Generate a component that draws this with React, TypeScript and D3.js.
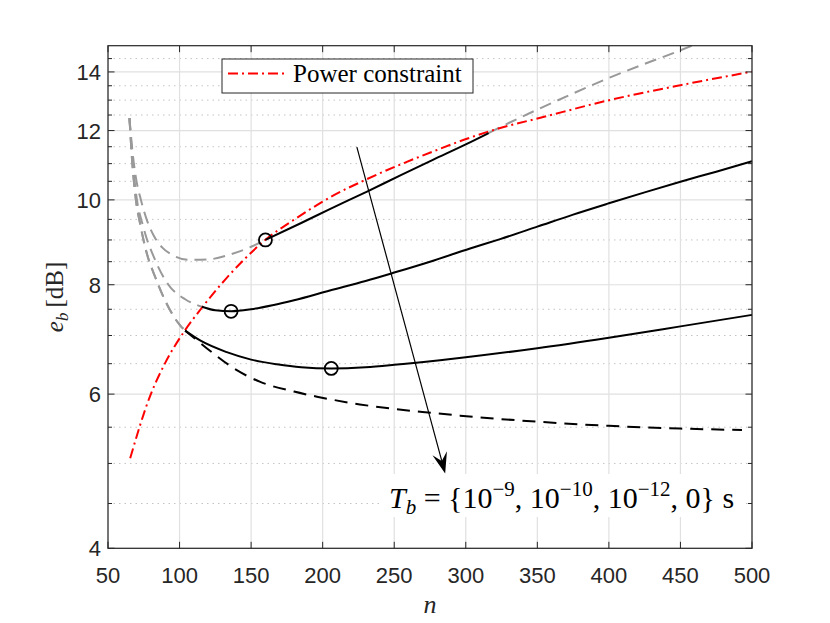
import * as d3 from "d3";
import { useEffect, useRef } from "react";

// values: n and e_b [dB]
const xTicks = [50, 100, 150, 200, 250, 300, 350, 400, 450, 500];
const yTicks = [4, 6, 8, 10, 12, 14];
const yMinorTicks = [4.5, 5, 5.5, 6.5, 7, 7.5, 8.5, 9, 9.5, 10.5, 11, 11.5, 12.5, 13, 13.5, 14.5];

const powerN = [65.5, 79.4, 89.9, 103.9, 115.6, 131.9, 145.8, 159.8, 176.1, 190.1, 205.2, 230.9, 282.1, 303.1, 324.1, 352.1, 398.6, 450, 500];
const powerE = [5.07, 5.97, 6.51, 7.1, 7.53, 8.11, 8.57, 9.0, 9.4, 9.73, 10.07, 10.56, 11.44, 11.78, 12.08, 12.41, 12.98, 13.52, 14.01];

// T_b = 1e-9
const c1N = [65, 67, 69.5, 73, 77, 82, 88, 95, 107, 120, 135, 150, 160, 185, 205, 231, 255, 277, 300, 316, 330, 350, 375, 400, 425, 450, 458];
const c1E = [12.4, 11.4, 10.6, 10.0, 9.5, 9.1, 8.82, 8.65, 8.54, 8.55, 8.66, 8.84, 9.0, 9.41, 9.76, 10.22, 10.68, 11.11, 11.57, 11.92, 12.24, 12.68, 13.23, 13.78, 14.3, 14.82, 15.0];
// T_b = 1e-10
const c2N = [65, 67, 69.5, 74.7, 82.9, 92.2, 103.9, 115.6, 125, 136, 150, 165, 180, 205, 230, 250, 275, 303, 324, 350, 375, 400, 425, 450, 475, 500];
const c2E = [12.4, 11.2, 10.2, 9.31, 8.54, 8.0, 7.7, 7.55, 7.48, 7.46, 7.5, 7.58, 7.68, 7.88, 8.08, 8.26, 8.5, 8.8, 9.02, 9.32, 9.62, 9.91, 10.2, 10.49, 10.77, 11.07];
// T_b = 1e-12
const c3N = [65, 67, 69.5, 72.4, 77.1, 82.9, 88.7, 94.6, 100.4, 103.9, 115, 133, 150, 168, 185, 206, 230, 250, 282, 300, 350, 400, 450, 500];
const c3E = [12.4, 11.0, 10.0, 9.4, 8.69, 8.17, 7.75, 7.42, 7.19, 7.09, 6.9, 6.7, 6.57, 6.49, 6.44, 6.42, 6.44, 6.48, 6.56, 6.61, 6.77, 6.96, 7.17, 7.39];
// T_b = 0
const c4N = [65, 67, 69.5, 72.4, 77.1, 82.9, 88.7, 94.6, 100.4, 103.9, 110, 124, 140, 156, 180, 196, 226, 250, 277, 296, 350, 400, 450, 493];
const c4E = [12.4, 11.0, 10.0, 9.4, 8.69, 8.17, 7.75, 7.42, 7.19, 7.09, 6.96, 6.67, 6.39, 6.2, 6.04, 5.96, 5.84, 5.77, 5.71, 5.67, 5.58, 5.52, 5.48, 5.46];

// feasible range (below the power constraint) of each curve
const feasibleFrom = [160, 115.6, 103.9, 103.9];
const feasibleTo = [316, 500, 500, 493];

// optimum markers
const optN = [160, 136, 206];
const optE = [9.0, 7.46, 6.42];

// arrow annotation (from, to) in data units
const arrowN = [223.9, 285.6];
const arrowE = [11.49, 4.87];

export default function App() {
  const ref = useRef<SVGSVGElement>(null);

  useEffect(() => {
    const svg = d3.select(ref.current);
    svg.selectAll("*").remove();

    const width = 830,
      height = 623;
    const margin = { top: 45.7, right: 78, bottom: 74.7, left: 108 };

    const x = d3.scaleLinear().domain([50, 500]).range([margin.left, width - margin.right]);
    const y = d3.scaleLog().domain([4, 15]).range([height - margin.bottom, margin.top]);

    const [x0, x1] = x.range();
    const [y0, y1] = y.range();
    const axisColor = "#262626";
    const sans = "'Liberation Sans', Arial, Helvetica, sans-serif";
    const serif = "'Liberation Serif', 'Times New Roman', serif";

    // --- grid ---
    const grid = svg.append("g");
    grid
      .selectAll(".minor")
      .data(yMinorTicks)
      .enter()
      .append("line")
      .attr("x1", x0)
      .attr("x2", x1)
      .attr("y1", (d) => y(d))
      .attr("y2", (d) => y(d))
      .attr("stroke", "#c4c4c4")
      .attr("stroke-width", 1)
      .attr("stroke-dasharray", "1.5 4");
    grid
      .selectAll(".ymaj")
      .data(yTicks)
      .enter()
      .append("line")
      .attr("x1", x0)
      .attr("x2", x1)
      .attr("y1", (d) => y(d))
      .attr("y2", (d) => y(d))
      .attr("stroke", "#e0e0e0")
      .attr("stroke-width", 1.2);
    grid
      .selectAll(".xmaj")
      .data(xTicks)
      .enter()
      .append("line")
      .attr("x1", (d) => x(d))
      .attr("x2", (d) => x(d))
      .attr("y1", y0)
      .attr("y2", y1)
      .attr("stroke", "#e0e0e0")
      .attr("stroke-width", 1.2);

    // --- curves ---
    const line = d3
      .line<[number, number]>()
      .x((d) => x(d[0]))
      .y((d) => y(d[1]))
      .curve(d3.curveMonotoneX);

    const curves = [
      { n: c1N, e: c1E, dashed: false },
      { n: c2N, e: c2E, dashed: false },
      { n: c3N, e: c3E, dashed: false },
      { n: c4N, e: c4E, dashed: true },
    ];

    const plot = svg.append("g");

    // infeasible parts, grey dashed
    curves.forEach((c, i) => {
      const pts = c.n.map((v, j) => [v, c.e[j]] as [number, number]);
      const before = pts.filter((p) => p[0] <= feasibleFrom[i]);
      const after = pts.filter((p) => p[0] >= feasibleTo[i]);
      [before, after].forEach((seg) => {
        if (seg.length < 2) return;
        plot
          .append("path")
          .attr("d", line(seg))
          .attr("fill", "none")
          .attr("stroke", "#999999")
          .attr("stroke-width", 2)
          .attr("stroke-dasharray", "12 7");
      });
    });

    // power constraint
    plot
      .append("path")
      .attr("d", line(powerN.map((v, j) => [v, powerE[j]] as [number, number])))
      .attr("fill", "none")
      .attr("stroke", "#ff0000")
      .attr("stroke-width", 2)
      .attr("stroke-dasharray", "10 4 2 4");

    // feasible parts, black
    curves.forEach((c, i) => {
      const pts = c.n
        .map((v, j) => [v, c.e[j]] as [number, number])
        .filter((p) => p[0] >= feasibleFrom[i] && p[0] <= feasibleTo[i]);
      plot
        .append("path")
        .attr("d", line(pts))
        .attr("fill", "none")
        .attr("stroke", "#000")
        .attr("stroke-width", 2)
        .attr("stroke-dasharray", c.dashed ? "13 8" : null);
    });

    // optimum circles
    plot
      .selectAll("circle")
      .data(optN)
      .enter()
      .append("circle")
      .attr("cx", (d) => x(d))
      .attr("cy", (_, i) => y(optE[i]))
      .attr("r", 6.5)
      .attr("fill", "none")
      .attr("stroke", "#000")
      .attr("stroke-width", 1.8);

    // --- axes box and ticks ---
    const ax = svg.append("g").attr("stroke", axisColor).attr("fill", "none");
    ax.append("rect")
      .attr("x", x0)
      .attr("y", y1)
      .attr("width", x1 - x0)
      .attr("height", y0 - y1)
      .attr("stroke-width", 1.2);

    xTicks.forEach((t) => {
      ax.append("line").attr("x1", x(t)).attr("x2", x(t)).attr("y1", y0).attr("y2", y0 - 6.5);
      ax.append("line").attr("x1", x(t)).attr("x2", x(t)).attr("y1", y1).attr("y2", y1 + 6.5);
    });
    yTicks.forEach((t) => {
      ax.append("line").attr("x1", x0).attr("x2", x0 + 6.5).attr("y1", y(t)).attr("y2", y(t));
      ax.append("line").attr("x1", x1).attr("x2", x1 - 6.5).attr("y1", y(t)).attr("y2", y(t));
    });
    yMinorTicks.forEach((t) => {
      ax.append("line").attr("x1", x0).attr("x2", x0 + 4).attr("y1", y(t)).attr("y2", y(t));
      ax.append("line").attr("x1", x1).attr("x2", x1 - 4).attr("y1", y(t)).attr("y2", y(t));
    });
    ax.selectAll("line").attr("stroke-width", 1);

    svg
      .append("g")
      .selectAll("text")
      .data(xTicks)
      .enter()
      .append("text")
      .attr("x", (d) => x(d))
      .attr("y", y0 + 35)
      .attr("text-anchor", "middle")
      .attr("font-family", sans)
      .attr("font-size", 22)
      .attr("fill", axisColor)
      .text((d) => d);

    svg
      .append("g")
      .selectAll("text")
      .data(yTicks)
      .enter()
      .append("text")
      .attr("x", x0 - 7)
      .attr("y", (d) => y(d) + 8)
      .attr("text-anchor", "end")
      .attr("font-family", sans)
      .attr("font-size", 22)
      .attr("fill", axisColor)
      .text((d) => d);

    // axis labels
    svg
      .append("text")
      .attr("x", (x0 + x1) / 2)
      .attr("y", 613)
      .attr("text-anchor", "middle")
      .attr("font-family", serif)
      .attr("font-style", "italic")
      .attr("font-size", 26)
      .attr("fill", axisColor)
      .text("n");

    const yl = svg
      .append("text")
      .attr("transform", `translate(63,${(y0 + y1) / 2}) rotate(-90)`)
      .attr("text-anchor", "middle")
      .attr("font-family", serif)
      .attr("font-size", 25)
      .attr("fill", axisColor);
    yl.append("tspan").attr("font-style", "italic").text("e");
    yl.append("tspan").attr("font-style", "italic").attr("font-size", 17).attr("dy", 5).text("b");
    yl.append("tspan").attr("dy", -5).text("\u2009[dB]");

    // --- legend ---
    const lg = svg.append("g");
    lg.append("rect")
      .attr("x", 222)
      .attr("y", 59)
      .attr("width", 251)
      .attr("height", 34)
      .attr("fill", "#fff")
      .attr("stroke", axisColor)
      .attr("stroke-width", 1);
    lg.append("line")
      .attr("x1", 228)
      .attr("x2", 288)
      .attr("y1", 73.5)
      .attr("y2", 73.5)
      .attr("stroke", "#ff0000")
      .attr("stroke-width", 2)
      .attr("stroke-dasharray", "10 4 2 4");
    lg.append("text")
      .attr("x", 293)
      .attr("y", 82)
      .attr("font-family", serif)
      .attr("font-size", 25)
      .attr("fill", "#000")
      .text("Power constraint");

    // --- T_b annotation ---
    svg
      .append("rect")
      .attr("x", 380)
      .attr("y", 474)
      .attr("width", 366)
      .attr("height", 43)
      .attr("fill", "#fff");

    const tb = svg
      .append("text")
      .attr("x", 389)
      .attr("y", 508)
      .attr("font-family", serif)
      .attr("font-size", 30)
      .attr("fill", "#000");
    tb.append("tspan").attr("font-style", "italic").text("T");
    tb.append("tspan").attr("font-style", "italic").attr("font-size", 21).attr("dy", 6).text("b");
    tb.append("tspan").attr("dy", -6).text(" = {10");
    tb.append("tspan").attr("font-size", 21).attr("dy", -12).text("\u22129");
    tb.append("tspan").attr("dy", 12).text(", 10");
    tb.append("tspan").attr("font-size", 21).attr("dy", -12).text("\u221210");
    tb.append("tspan").attr("dy", 12).text(", 10");
    tb.append("tspan").attr("font-size", 21).attr("dy", -12).text("\u221212");
    tb.append("tspan").attr("dy", 12).text(", 0} s");

    // --- arrow ---
    const ax0 = x(arrowN[0]),
      ay0 = y(arrowE[0]),
      ax1 = x(arrowN[1]),
      ay1 = y(arrowE[1]);
    const ang = Math.atan2(ay1 - ay0, ax1 - ax0);
    const L = 21,
      hw = 7.5,
      notch = 13;
    const ux = Math.cos(ang),
      uy = Math.sin(ang);
    const bx = ax1 - ux * L,
      by = ay1 - uy * L;
    const nx = ax1 - ux * notch,
      ny = ay1 - uy * notch;
    svg
      .append("line")
      .attr("x1", ax0)
      .attr("y1", ay0)
      .attr("x2", nx)
      .attr("y2", ny)
      .attr("stroke", "#000")
      .attr("stroke-width", 1.2);
    svg
      .append("path")
      .attr(
        "d",
        `M${ax1},${ay1} L${bx - uy * hw},${by + ux * hw} L${nx},${ny} L${bx + uy * hw},${by - ux * hw} Z`
      )
      .attr("fill", "#000");
  }, []);

  return (
    <svg
      ref={ref}
      width={830}
      height={623}
      style={{ position: "absolute", left: 0, top: 0, background: "#fff" }}
    />
  );
}
